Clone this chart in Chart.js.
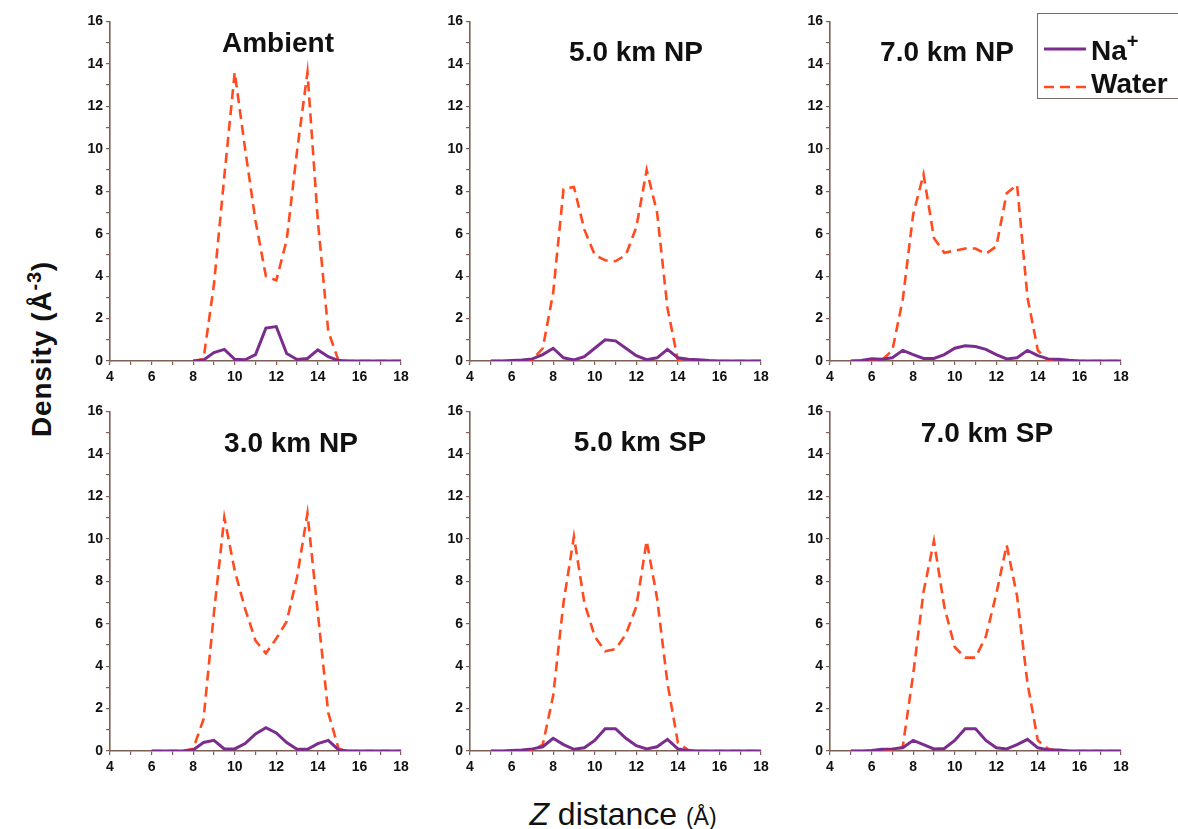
<!DOCTYPE html>
<html>
<head>
<meta charset="utf-8">
<script src="https://cdn.jsdelivr.net/npm/chart.js@4.4.0/dist/chart.umd.min.js"></script>
<style>
  body { margin: 0; background: #fff; }
  #page { position: relative; width: 1178px; height: 829px; overflow: hidden; font-family: "Liberation Sans", Arial, sans-serif; color: #111; }
  canvas { position: absolute; }
  .ttl { position: absolute; transform: translate(-50%, -50%); font-size: 28px; font-weight: bold; line-height: 1; white-space: nowrap; }
  #legend { position: absolute; left: 1037px; top: 13px; width: 160px; height: 86px; border: 1.5px solid #7a6a66; box-sizing: border-box; }
  #legend svg { position: absolute; left: 6px; }
  #legend .lt { position: absolute; left: 53px; font-size: 28px; font-weight: bold; line-height: 1; }
  #legend sup { font-size: 20px; position: relative; top: -2px; }
  #ylab { position: absolute; left: 40px; top: 349px; transform: translate(-50%, -50%) rotate(-90deg); font-size: 28px; font-weight: bold; white-space: nowrap; line-height: 1; letter-spacing: 0.8px; }
  #ylab sup { font-size: 20px; }
  #xlab { position: absolute; left: 623px; top: 814px; transform: translate(-50%, -50%); font-size: 32px; white-space: nowrap; line-height: 1; }
  #xlab .sm { font-size: 23px; }
</style>
</head>
<body>
<div id="page">
  <canvas id="c1" width="333" height="376" style="left:80px;top:10px"></canvas>
  <canvas id="c2" width="333" height="376" style="left:440px;top:10px"></canvas>
  <canvas id="c3" width="333" height="376" style="left:800px;top:10px"></canvas>
  <canvas id="c4" width="333" height="376" style="left:80px;top:400px"></canvas>
  <canvas id="c5" width="333" height="376" style="left:440px;top:400px"></canvas>
  <canvas id="c6" width="333" height="376" style="left:800px;top:400px"></canvas>

  <div class="ttl" style="left:278px;top:43px">Ambient</div>
  <div class="ttl" style="left:636px;top:52px">5.0 km NP</div>
  <div class="ttl" style="left:947px;top:52px">7.0 km NP</div>
  <div class="ttl" style="left:291px;top:443px">3.0 km NP</div>
  <div class="ttl" style="left:640px;top:442px">5.0 km SP</div>
  <div class="ttl" style="left:987px;top:433px">7.0 km SP</div>

  <div id="legend">
    <svg width="44" height="6" style="top:32px"><line x1="0" y1="3" x2="42" y2="3" stroke="#7b2d8e" stroke-width="3"/></svg>
    <div class="lt" style="top:19px">Na<sup>+</sup></div>
    <svg width="44" height="6" style="top:70px"><line x1="0" y1="3" x2="42" y2="3" stroke="#ff4b1f" stroke-width="2.5" stroke-dasharray="10,6"/></svg>
    <div class="lt" style="top:56px">Water</div>
  </div>

  <div id="ylab">Density (Å<sup>-3</sup>)</div>
  <div id="xlab"><i>Z</i> distance <span class="sm">(Å)</span></div>
</div>

<script>
// z positions (Å), shared by all panels
const zPos = [5.0, 5.5, 6.0, 6.5, 7.0, 7.5, 8.0, 8.5, 9.0, 9.5, 10.0, 10.5, 11.0, 11.5, 12.0, 12.5, 13.0, 13.5, 14.0, 14.5, 15.0, 15.5, 16.0, 16.5, 17.0, 17.5, 18.0];

const panelTitles = ['Ambient', '5.0 km NP', '7.0 km NP', '3.0 km NP', '5.0 km SP', '7.0 km SP'];

// density values
const ambientWater = [null, null, null, null, null, null, 0, 0.1, 3.6, 8.7, 13.6, 10.0, 6.6, 4.0, 3.8, 5.7, 9.9, 13.6, 6.6, 1.4, 0, 0, 0, 0, 0, 0, 0];
const ambientNa    = [null, null, null, null, null, null, 0, 0.05, 0.4, 0.55, 0.08, 0.06, 0.3, 1.55, 1.62, 0.35, 0.07, 0.12, 0.52, 0.2, 0.02, 0, 0, 0, 0, 0, 0];

const np5Water = [0, 0, 0, 0, 0.05, 0.6, 3.2, 8.1, 8.2, 6.2, 5.0, 4.75, 4.7, 5.0, 6.3, 9.0, 7.0, 2.5, 0.05, 0, 0, 0, 0, 0, 0, 0, 0];
const np5Na    = [0, 0, 0.02, 0.05, 0.1, 0.3, 0.6, 0.15, 0.05, 0.2, 0.6, 1.0, 0.95, 0.6, 0.25, 0.06, 0.15, 0.55, 0.15, 0.08, 0.06, 0.02, 0, 0, 0, 0, 0];

const np7Water = [0, 0, 0, 0.05, 0.5, 2.9, 6.9, 8.8, 5.8, 5.1, 5.2, 5.3, 5.3, 5.05, 5.4, 7.9, 8.3, 3.0, 0.5, 0, 0, 0, 0, 0, 0, 0, 0];
const np7Na    = [0, 0.02, 0.1, 0.08, 0.15, 0.5, 0.3, 0.12, 0.12, 0.3, 0.6, 0.72, 0.68, 0.55, 0.3, 0.1, 0.15, 0.5, 0.25, 0.1, 0.08, 0.03, 0, 0, 0, 0, 0];

const np3Water = [null, null, 0, 0, 0, 0, 0.1, 1.5, 6.5, 11.0, 8.5, 6.7, 5.2, 4.6, 5.3, 6.1, 8.2, 11.2, 6.5, 1.8, 0.1, 0, 0, 0, 0, 0, 0];
const np3Na    = [null, null, 0, 0, 0, 0, 0.05, 0.4, 0.5, 0.1, 0.1, 0.35, 0.8, 1.1, 0.85, 0.4, 0.08, 0.08, 0.35, 0.5, 0.05, 0, 0, 0, 0, 0, 0];

const sp5Water = [0, 0, 0, 0, 0.02, 0.3, 2.6, 7.0, 10.1, 7.0, 5.4, 4.7, 4.8, 5.5, 6.8, 9.9, 7.2, 3.2, 0.4, 0.05, 0, 0, 0, 0, 0, 0, 0];
const sp5Na    = [0, 0, 0.02, 0.05, 0.1, 0.2, 0.6, 0.3, 0.08, 0.15, 0.5, 1.05, 1.05, 0.6, 0.25, 0.1, 0.2, 0.55, 0.1, 0.02, 0, 0, 0, 0, 0, 0, 0];

const sp7Water = [0, 0, 0, 0, 0.02, 0.2, 3.6, 7.5, 9.9, 6.8, 4.9, 4.4, 4.4, 5.4, 7.4, 9.7, 7.3, 3.2, 0.5, 0.1, 0, 0, 0, 0, 0, 0, 0];
const sp7Na    = [0, 0, 0.02, 0.08, 0.1, 0.15, 0.5, 0.3, 0.1, 0.12, 0.5, 1.05, 1.05, 0.5, 0.15, 0.1, 0.3, 0.55, 0.15, 0.05, 0.05, 0, 0, 0, 0, 0, 0];

const panels = [
  ['c1', ambientWater, ambientNa],
  ['c2', np5Water, np5Na],
  ['c3', np7Water, np7Na],
  ['c4', np3Water, np3Na],
  ['c5', sp5Water, sp5Na],
  ['c6', sp7Water, sp7Na]
];

const axisColor = '#7d5f55';
const tickFont = { family: 'Liberation Sans', size: 14, weight: 'bold' };

function toPoints(vals) {
  return zPos.map((z, i) => ({ x: z, y: vals[i] }));
}

panels.forEach(([id, water, na], k) => {
  const ctx = document.getElementById(id).getContext('2d');
  new Chart(ctx, {
    type: 'line',
    data: {
      datasets: [{
        label: 'Na+',
        data: toPoints(na),
        borderColor: '#7b2d8e',
        borderWidth: 3,
        pointRadius: 0,
        tension: 0
      }, {
        label: 'Water',
        data: toPoints(water),
        borderColor: '#ff4b1f',
        borderWidth: 2.6,
        borderDash: [10, 6],
        pointRadius: 0,
        tension: 0
      }]
    },
    options: {
      responsive: false,
      animation: false,
      devicePixelRatio: 1,
      layout: { padding: { top: 10, right: 12, left: 0, bottom: 0 } },
      plugins: {
        legend: { display: false },
        tooltip: { enabled: false },
        title: { display: false, text: panelTitles[k] }
      },
      scales: {
        x: {
          type: 'linear',
          min: 4,
          max: 18,
          afterFit: s => { s.height = 25; },
          ticks: {
            stepSize: 1,
            autoSkip: false,
            maxRotation: 0,
            padding: 4,
            color: '#111',
            font: tickFont,
            callback: v => (v % 2 === 0 ? v : '')
          },
          grid: { drawOnChartArea: false, drawTicks: true, tickLength: 4, color: axisColor, lineWidth: 1.2 },
          border: { color: axisColor, width: 1.6 }
        },
        y: {
          min: 0,
          max: 16,
          afterFit: s => { s.width = 30; },
          ticks: {
            stepSize: 1,
            autoSkip: false,
            padding: 3,
            color: '#111',
            font: tickFont,
            callback: v => (v % 2 === 0 ? v : '')
          },
          grid: { drawOnChartArea: false, drawTicks: true, tickLength: 4, color: axisColor, lineWidth: 1.2 },
          border: { color: axisColor, width: 1.6 }
        }
      }
    }
  });
});
</script>
</body>
</html>
